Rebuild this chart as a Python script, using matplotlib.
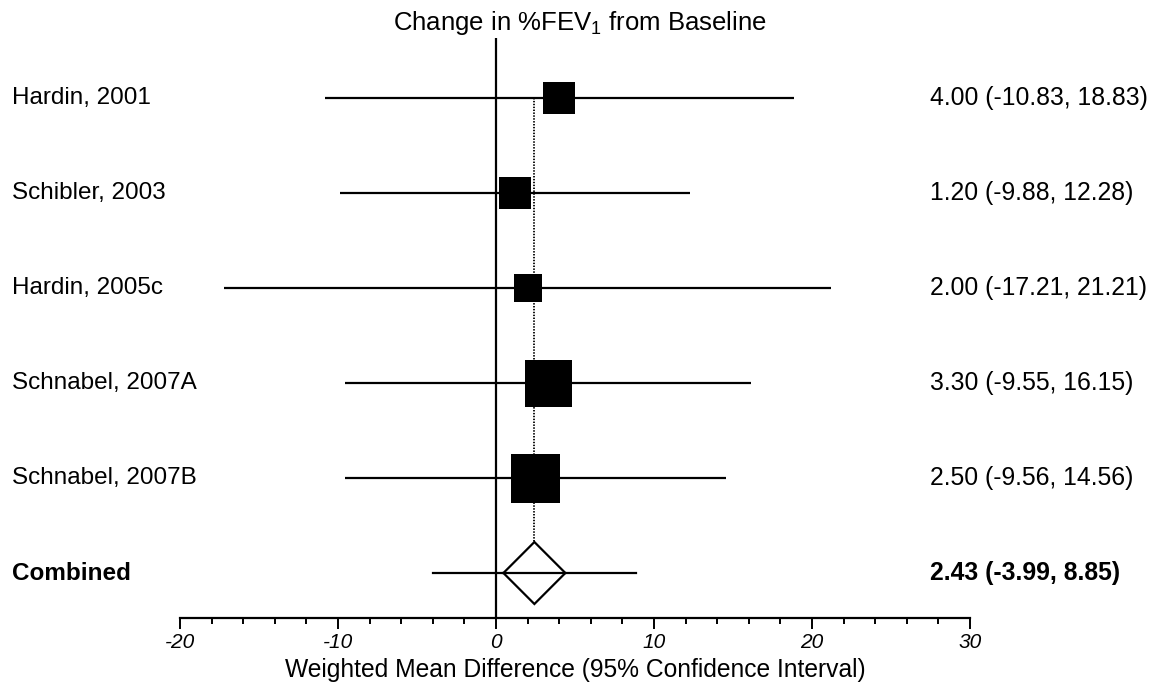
import matplotlib
matplotlib.use("Agg")
import matplotlib.pyplot as plt
from matplotlib.transforms import blended_transform_factory

plt.rcParams["font.family"] = ["Liberation Sans", "DejaVu Sans"]
plt.rcParams["axes.unicode_minus"] = False
plt.rcParams["mathtext.fontset"] = "custom"
plt.rcParams["mathtext.rm"] = "Liberation Sans"
plt.rcParams["mathtext.it"] = "Liberation Sans:italic"

studies = ["Hardin, 2001", "Schibler, 2003", "Hardin, 2005c",
           "Schnabel, 2007A", "Schnabel, 2007B"]
wmd = [4.00, 1.20, 2.00, 3.30, 2.50]
ci_low = [-10.83, -9.88, -17.21, -9.55, -9.56]
ci_high = [18.83, 12.28, 21.21, 16.15, 14.56]
# relative box size per study (study weight)
weights = [32, 32, 28, 47, 49]

pooled = 2.43
pooled_low = -3.99
pooled_high = 8.85

W, H = 1155, 686
fig = plt.figure(figsize=(W / 100, H / 100), dpi=100)
# axes spans the -20..30 scale; rows are 95 px apart starting at y=98
ax = fig.add_axes([180 / W, (H - 618) / H, 790 / W, (618 - 38) / H])
row_px = 95.0
ax.set_xlim(-20, 30)
ax.set_ylim((618 - 98) / row_px, (38 - 98) / row_px)

for i, (m, lo, hi, w) in enumerate(zip(wmd, ci_low, ci_high, weights)):
    ax.plot([lo, hi], [i, i], color="black", lw=1.6, solid_capstyle="butt", zorder=2)
    half = w / 2 / 15.8
    hh = w / 2 / row_px
    ax.add_patch(plt.Rectangle((m - half, i - hh), 2 * half, 2 * hh,
                               facecolor="black", edgecolor="none", zorder=3))

n = len(studies)
# combined estimate: CI line and diamond
ax.plot([pooled_low, pooled_high], [n, n], color="black", lw=1.6, zorder=2)
dw = 1.96
dh = 31 / row_px
ax.fill([pooled - dw, pooled, pooled + dw, pooled],
        [n, n - dh, n, n + dh], facecolor="white", edgecolor="black",
        lw=1.6, zorder=3)
ax.plot([pooled - dw, pooled + dw], [n, n], color="black", lw=1.6, zorder=4)

# line of no effect and pooled reference
ax.axvline(0, color="black", lw=1.6, zorder=1)
ax.plot([pooled, pooled], [0, n - dh], color="black", lw=1.3,
        linestyle=(0, (0.8, 0.8)), zorder=1)

for s in ["left", "right", "top"]:
    ax.spines[s].set_visible(False)
ax.spines["bottom"].set_linewidth(1.6)
ax.set_yticks([])
ax.set_xticks([-20, -10, 0, 10, 20, 30])
ax.set_xticks(range(-20, 31, 2), minor=True)
ax.tick_params(axis="x", which="major", direction="out", length=8, width=1.4,
               labelsize=15, pad=3)
ax.tick_params(axis="x", which="minor", direction="out", length=4.3, width=1.4)
for lab in ax.get_xticklabels():
    lab.set_fontstyle("italic")
ax.set_xlabel("Weighted Mean Difference (95% Confidence Interval)",
              fontsize=17.7, labelpad=4)

trans = blended_transform_factory(fig.transFigure, ax.transData)
labels = studies + ["Combined"]
estimates = [f"{m:.2f} ({lo:.2f}, {hi:.2f})" for m, lo, hi in zip(wmd, ci_low, ci_high)]
estimates.append(f"{pooled:.2f} ({pooled_low:.2f}, {pooled_high:.2f})")
for i, (lab, est) in enumerate(zip(labels, estimates)):
    weight = "bold" if lab == "Combined" else "normal"
    ax.text(12 / W, i, lab, transform=trans, fontsize=17.5, va="center",
            ha="left", fontweight=weight)
    ax.text(930 / W, i, est, transform=trans, fontsize=17.8, va="center",
            ha="left", fontweight=weight)

fig.text(580 / W, 1 - 23 / H, "Change in %FEV$_1$ from Baseline",
         fontsize=18.5, ha="center", va="center")

fig.savefig("out.png", dpi=100)
